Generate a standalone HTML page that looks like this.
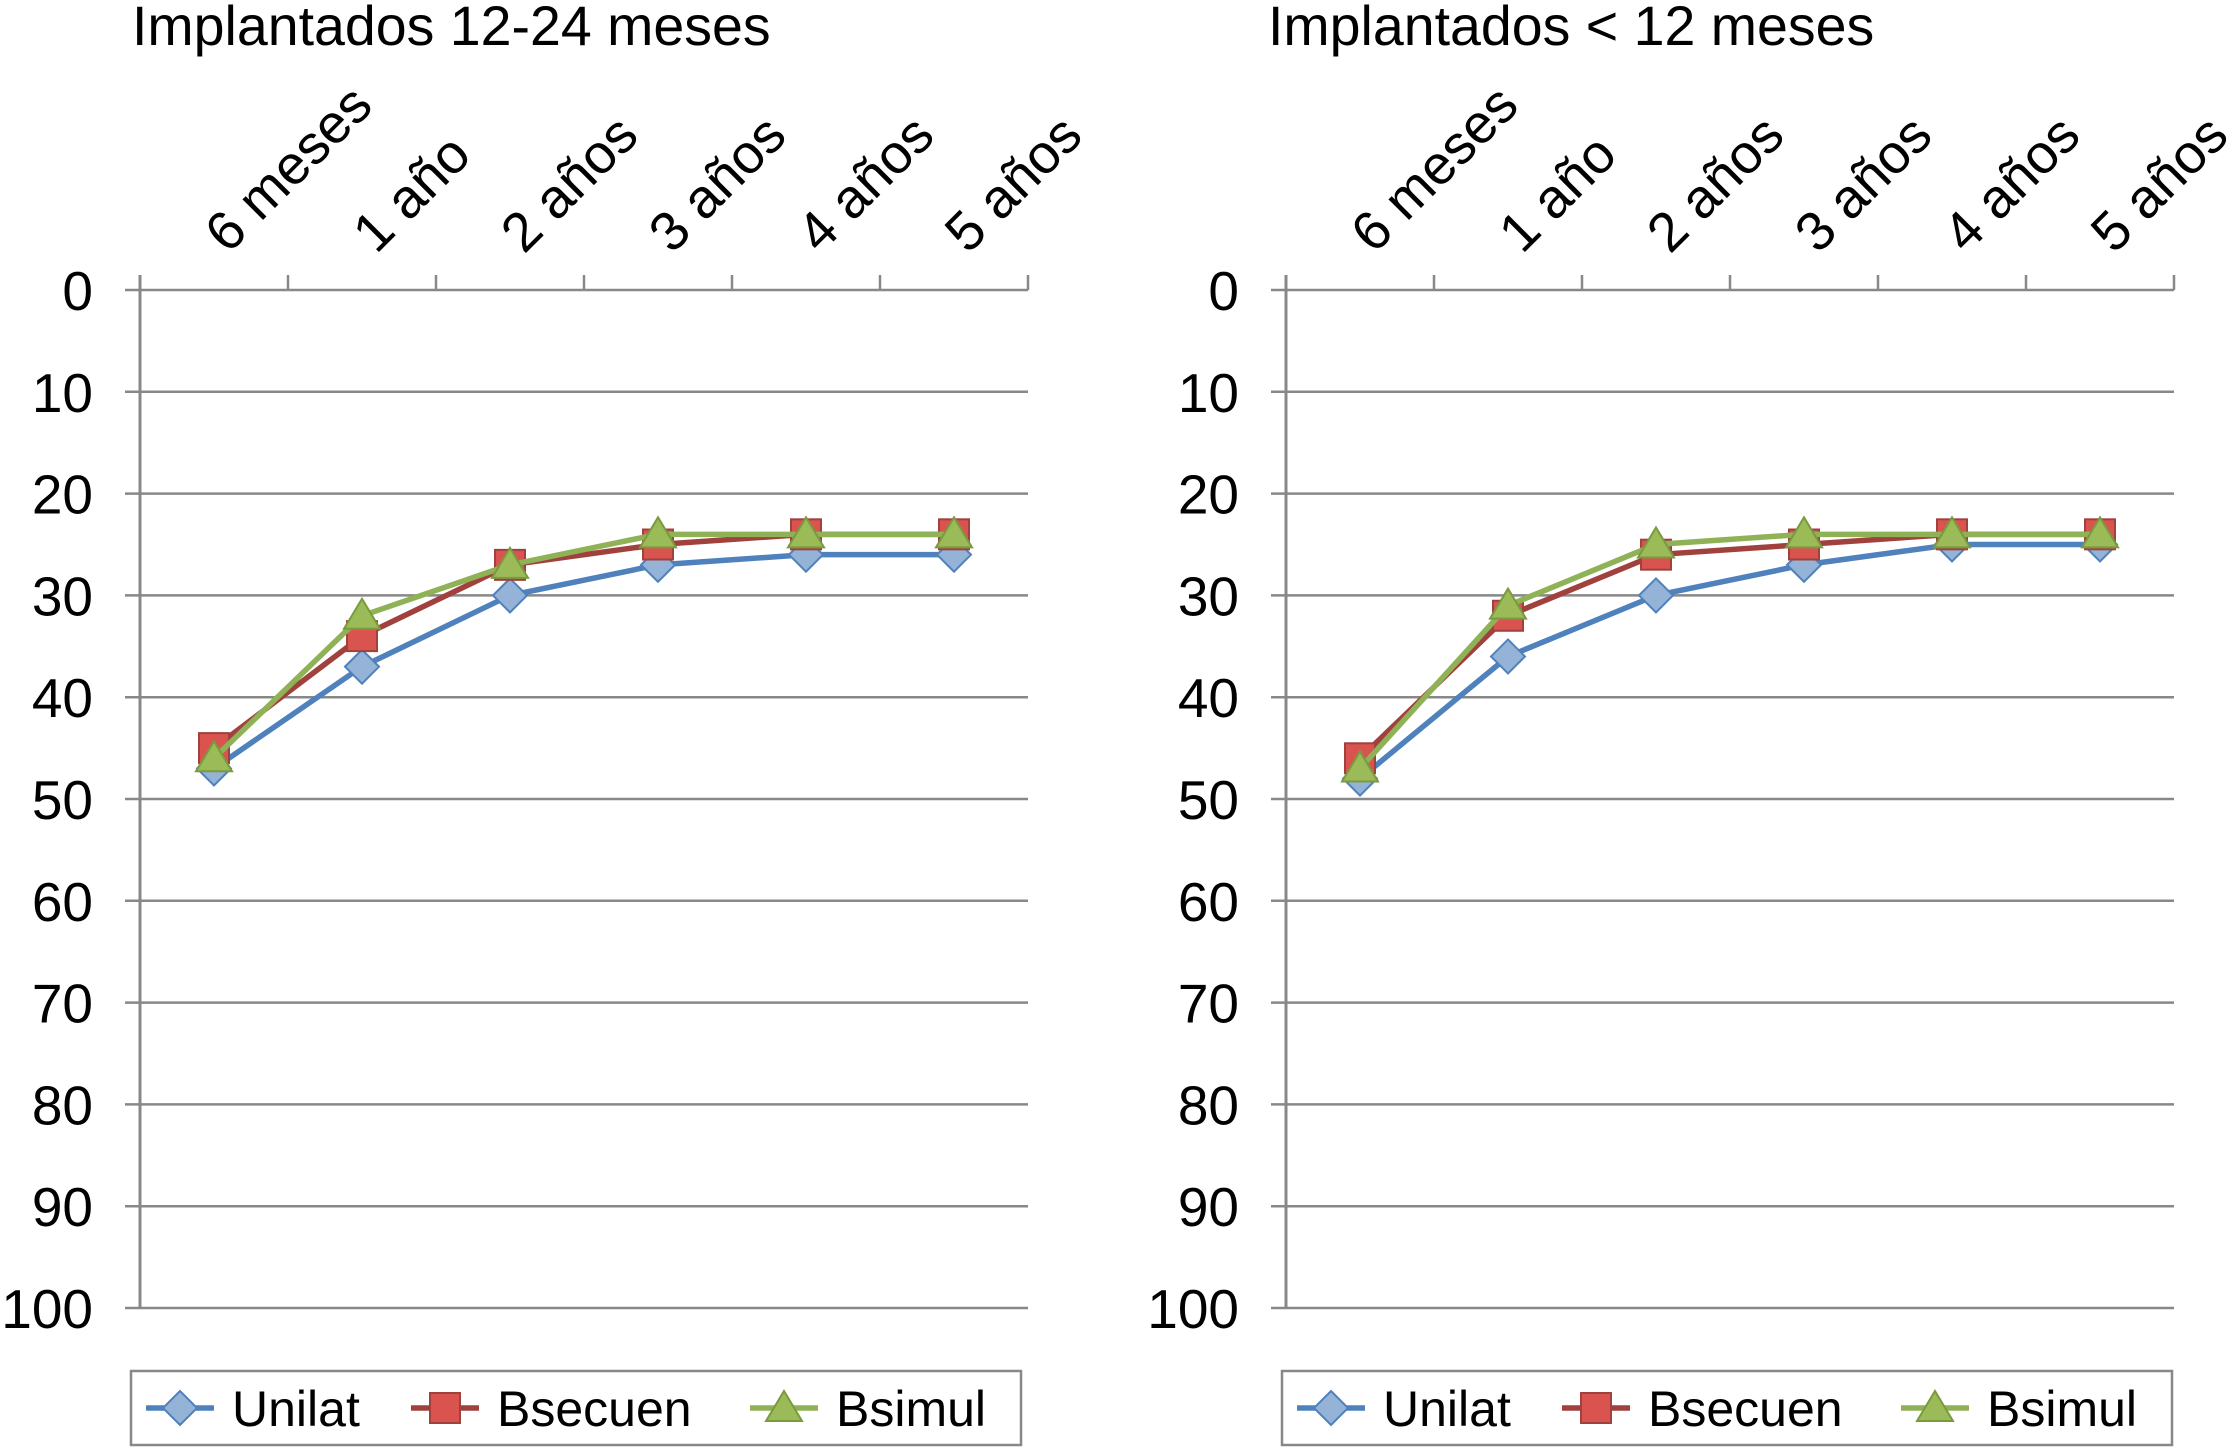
<!DOCTYPE html>
<html><head><meta charset="utf-8"><style>
html,body{margin:0;padding:0;background:#fff;}
svg{display:block;font-family:"Liberation Sans",sans-serif;}
</style></head><body>
<svg id="c" width="2233" height="1448" viewBox="0 0 2233 1448"></svg>
<script>
const categories=["6 meses","1 año","2 años","3 años","4 años","5 años"];
const yTicks=[0,10,20,30,40,50,60,70,80,90,100];
const seriesNames=["Unilat","Bsecuen","Bsimul"];
const leftTitle="Implantados 12-24 meses";
const rightTitle="Implantados < 12 meses";
const leftUnilat=[47,37,30,27,26,26];
const leftBsecuen=[45,34,27,25,24,24];
const leftBsimul=[46,32,27,24,24,24];
const rightUnilat=[48,36,30,27,25,25];
const rightBsecuen=[46,32,26,25,24,24];
const rightBsimul=[47,31,25,24,24,24];

const NS="http://www.w3.org/2000/svg";
const svg=document.getElementById('c');
function mk(tag,attrs,parent){const e=document.createElementNS(NS,tag);for(const k in attrs)e.setAttribute(k,attrs[k]);(parent||svg).appendChild(e);return e;}
const styles=[{line:"#4f81bd",fill:"#95b3d7",stroke:"#4f81bd",m:"diamond"},{line:"#a0413e",fill:"#d9534f",stroke:"#a0413e",m:"square"},{line:"#8eb255",fill:"#9bbb59",stroke:"#7a9a3e",m:"triangle"}];
function marker(g,type,x,y,st){
  const s=15;let e;
  if(type==="diamond")e=mk('polygon',{points:`${x},${y-s-2} ${x+s+2},${y} ${x},${y+s+2} ${x-s-2},${y}`,fill:st.fill,stroke:st.stroke,'stroke-width':2},g);
  else if(type==="square")e=mk('rect',{x:x-s,y:y-s,width:2*s,height:2*s,fill:st.fill,stroke:st.stroke,'stroke-width':2},g);
  else e=mk('polygon',{points:`${x},${y-s-2} ${x+s+3},${y+s-2} ${x-s-3},${y+s-2}`,fill:st.fill,stroke:st.stroke,'stroke-width':2},g);
  return e;
}
function chart(x0,x1,title,titleX,data,name,lgShift){
  const g=mk('g',{});
  
  
  const y0=290,y1=1308;
  const yS=v=>y0+(y1-y0)*v/100;
  const step=(x1-x0)/categories.length;
  const xS=i=>x0+step*(i+0.5);
  const t=mk('text',{x:titleX,y:45,'font-size':55.5,fill:'#000'},g);t.textContent=title;
  
  
  yTicks.forEach(v=>{
    const l=mk('line',{x1:x0-15,x2:x1,y1:yS(v),y2:yS(v),stroke:'#888','stroke-width':2.5},g);
    
    
    const tx=mk('text',{x:x0-47,y:yS(v)+20,'font-size':55,'text-anchor':'end',fill:'#000'},g);tx.textContent=v;
    
    
  });
  const ax=mk('line',{x1:x0,x2:x0,y1:y0-15,y2:y1,stroke:'#888','stroke-width':3},g);
  
  
  for(let i=0;i<=categories.length;i++){const tk=mk('line',{x1:x0+step*i,x2:x0+step*i,y1:y0-15,y2:y0,stroke:'#888','stroke-width':2.5},g);
    
    }
  categories.forEach((c,i)=>{
    const cx=xS(i)+14,cy=255;
    const tx=mk('text',{x:cx,y:cy,'font-size':55,fill:'#000',transform:`rotate(-45 ${cx} ${cy})`},g);tx.textContent=c;
    
    
  });
  data.forEach((vals,si)=>{
    const st=styles[si];
    const pl=mk('polyline',{points:vals.map((v,i)=>`${xS(i)},${yS(v)}`).join(' '),fill:'none',stroke:st.line,'stroke-width':5.5},g);
    
    
    vals.forEach((v,i)=>{const m=marker(g,st.m,xS(i),yS(v),st);
      
      });
  });
  const lg=mk('g',{},g);
  
  
  const lx=x0-9+lgShift;
  mk('rect',{x:lx,y:1371,width:890,height:74,fill:'#fff',stroke:'#888','stroke-width':2.5},lg);
  const offs=[15,280,619];
  seriesNames.forEach((n,si)=>{
    const st=styles[si],bx=lx+offs[si];
    const e=mk('g',{},lg);
    
    
    mk('line',{x1:bx,x2:bx+68,y1:1408,y2:1408,stroke:st.line,'stroke-width':5.5},e);
    marker(e,st.m,bx+34,1408,st);
    const tx=mk('text',{x:bx+86,y:1426,'font-size':50,fill:'#000'},e);tx.textContent=n;
  });
}
chart(140,1028,leftTitle,132,[leftUnilat,leftBsecuen,leftBsimul],'left-chart',0);
chart(1286,2174,rightTitle,1268,[rightUnilat,rightBsecuen,rightBsimul],'right-chart',5);
</script>
</body></html>
